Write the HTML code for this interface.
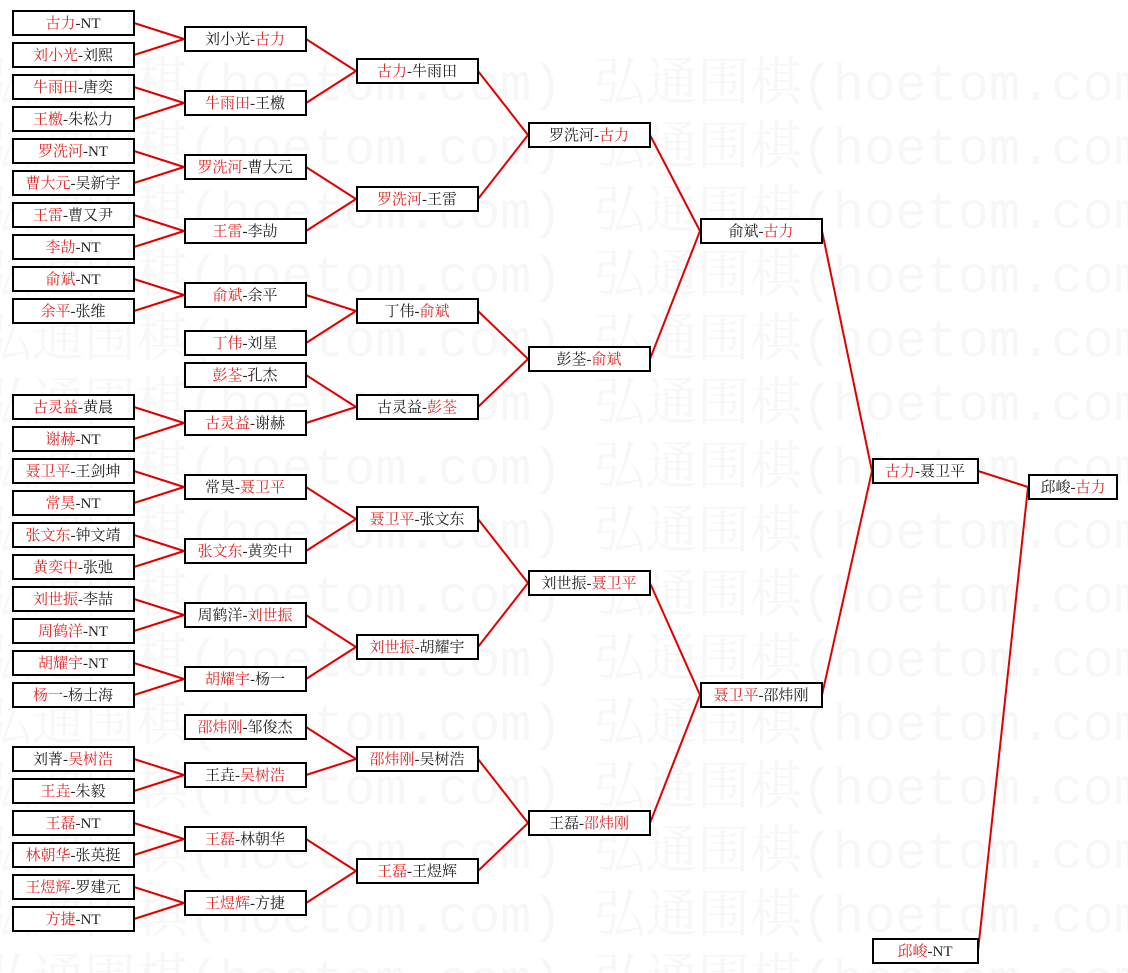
<!DOCTYPE html>
<html><head><meta charset="utf-8"><style>
html,body{margin:0;padding:0;background:#fff;}
svg{display:block;}
text{font-family:"Liberation Serif","Noto Serif CJK SC","Noto Sans CJK SC",serif;font-size:15px;fill:#222;}
.w{font-family:"Liberation Mono","Noto Serif CJK SC",monospace;font-size:52px;fill:#f7f7f7;}
.r{fill:#e02828;}
rect{fill:#fff;stroke:#000;stroke-width:2;}
line{stroke:#e00000;stroke-width:2;}
</style></head><body>
<svg width="1128" height="973" xmlns="http://www.w3.org/2000/svg">
<g>
<text class="w" x="-20" y="100">弘通围棋(hoetom.com) 弘通围棋(hoetom.com)</text>
<text class="w" x="-20" y="164">弘通围棋(hoetom.com) 弘通围棋(hoetom.com)</text>
<text class="w" x="-20" y="228">弘通围棋(hoetom.com) 弘通围棋(hoetom.com)</text>
<text class="w" x="-20" y="292">弘通围棋(hoetom.com) 弘通围棋(hoetom.com)</text>
<text class="w" x="-20" y="356">弘通围棋(hoetom.com) 弘通围棋(hoetom.com)</text>
<text class="w" x="-20" y="420">弘通围棋(hoetom.com) 弘通围棋(hoetom.com)</text>
<text class="w" x="-20" y="484">弘通围棋(hoetom.com) 弘通围棋(hoetom.com)</text>
<text class="w" x="-20" y="548">弘通围棋(hoetom.com) 弘通围棋(hoetom.com)</text>
<text class="w" x="-20" y="612">弘通围棋(hoetom.com) 弘通围棋(hoetom.com)</text>
<text class="w" x="-20" y="676">弘通围棋(hoetom.com) 弘通围棋(hoetom.com)</text>
<text class="w" x="-20" y="740">弘通围棋(hoetom.com) 弘通围棋(hoetom.com)</text>
<text class="w" x="-20" y="804">弘通围棋(hoetom.com) 弘通围棋(hoetom.com)</text>
<text class="w" x="-20" y="868">弘通围棋(hoetom.com) 弘通围棋(hoetom.com)</text>
<text class="w" x="-20" y="932">弘通围棋(hoetom.com) 弘通围棋(hoetom.com)</text>
<text class="w" x="-20" y="996">弘通围棋(hoetom.com) 弘通围棋(hoetom.com)</text>
</g>
<g>
<line x1="134" y1="23" x2="184" y2="39"/><line x1="134" y1="55" x2="184" y2="39"/>
<line x1="134" y1="87" x2="184" y2="103"/><line x1="134" y1="119" x2="184" y2="103"/>
<line x1="134" y1="151" x2="184" y2="167"/><line x1="134" y1="183" x2="184" y2="167"/>
<line x1="134" y1="215" x2="184" y2="231"/><line x1="134" y1="247" x2="184" y2="231"/>
<line x1="134" y1="279" x2="184" y2="295"/><line x1="134" y1="311" x2="184" y2="295"/>
<line x1="134" y1="407" x2="184" y2="423"/><line x1="134" y1="439" x2="184" y2="423"/>
<line x1="134" y1="471" x2="184" y2="487"/><line x1="134" y1="503" x2="184" y2="487"/>
<line x1="134" y1="535" x2="184" y2="551"/><line x1="134" y1="567" x2="184" y2="551"/>
<line x1="134" y1="599" x2="184" y2="615"/><line x1="134" y1="631" x2="184" y2="615"/>
<line x1="134" y1="663" x2="184" y2="679"/><line x1="134" y1="695" x2="184" y2="679"/>
<line x1="134" y1="759" x2="184" y2="775"/><line x1="134" y1="791" x2="184" y2="775"/>
<line x1="134" y1="823" x2="184" y2="839"/><line x1="134" y1="855" x2="184" y2="839"/>
<line x1="134" y1="887" x2="184" y2="903"/><line x1="134" y1="919" x2="184" y2="903"/>
<line x1="306" y1="39" x2="356" y2="71"/><line x1="306" y1="103" x2="356" y2="71"/>
<line x1="306" y1="167" x2="356" y2="199"/><line x1="306" y1="231" x2="356" y2="199"/>
<line x1="306" y1="295" x2="356" y2="311"/><line x1="306" y1="343" x2="356" y2="311"/>
<line x1="306" y1="375" x2="356" y2="407"/><line x1="306" y1="423" x2="356" y2="407"/>
<line x1="306" y1="487" x2="356" y2="519"/><line x1="306" y1="551" x2="356" y2="519"/>
<line x1="306" y1="615" x2="356" y2="647"/><line x1="306" y1="679" x2="356" y2="647"/>
<line x1="306" y1="727" x2="356" y2="759"/><line x1="306" y1="775" x2="356" y2="759"/>
<line x1="306" y1="839" x2="356" y2="871"/><line x1="306" y1="903" x2="356" y2="871"/>
<line x1="478" y1="71" x2="528" y2="135"/><line x1="478" y1="199" x2="528" y2="135"/>
<line x1="478" y1="311" x2="528" y2="359"/><line x1="478" y1="407" x2="528" y2="359"/>
<line x1="478" y1="519" x2="528" y2="583"/><line x1="478" y1="647" x2="528" y2="583"/>
<line x1="478" y1="759" x2="528" y2="823"/><line x1="478" y1="871" x2="528" y2="823"/>
<line x1="650" y1="135" x2="700" y2="231"/><line x1="650" y1="359" x2="700" y2="231"/>
<line x1="650" y1="583" x2="700" y2="695"/><line x1="650" y1="823" x2="700" y2="695"/>
<line x1="822" y1="231" x2="872" y2="471"/><line x1="822" y1="695" x2="872" y2="471"/>
<line x1="978" y1="471" x2="1028" y2="487"/><line x1="978" y1="951" x2="1028" y2="487"/>
</g>
<g>
<rect x="13" y="11" width="121" height="24"/><text x="73" y="28" text-anchor="middle"><tspan class="r">古力</tspan>-NT</text>
<rect x="13" y="43" width="121" height="24"/><text x="73" y="60" text-anchor="middle"><tspan class="r">刘小光</tspan>-刘熙</text>
<rect x="13" y="75" width="121" height="24"/><text x="73" y="92" text-anchor="middle"><tspan class="r">牛雨田</tspan>-唐奕</text>
<rect x="13" y="107" width="121" height="24"/><text x="73" y="124" text-anchor="middle"><tspan class="r">王檄</tspan>-朱松力</text>
<rect x="13" y="139" width="121" height="24"/><text x="73" y="156" text-anchor="middle"><tspan class="r">罗洗河</tspan>-NT</text>
<rect x="13" y="171" width="121" height="24"/><text x="73" y="188" text-anchor="middle"><tspan class="r">曹大元</tspan>-吴新宇</text>
<rect x="13" y="203" width="121" height="24"/><text x="73" y="220" text-anchor="middle"><tspan class="r">王雷</tspan>-曹又尹</text>
<rect x="13" y="235" width="121" height="24"/><text x="73" y="252" text-anchor="middle"><tspan class="r">李劼</tspan>-NT</text>
<rect x="13" y="267" width="121" height="24"/><text x="73" y="284" text-anchor="middle"><tspan class="r">俞斌</tspan>-NT</text>
<rect x="13" y="299" width="121" height="24"/><text x="73" y="316" text-anchor="middle"><tspan class="r">余平</tspan>-张维</text>
<rect x="13" y="395" width="121" height="24"/><text x="73" y="412" text-anchor="middle"><tspan class="r">古灵益</tspan>-黄晨</text>
<rect x="13" y="427" width="121" height="24"/><text x="73" y="444" text-anchor="middle"><tspan class="r">谢赫</tspan>-NT</text>
<rect x="13" y="459" width="121" height="24"/><text x="73" y="476" text-anchor="middle"><tspan class="r">聂卫平</tspan>-王剑坤</text>
<rect x="13" y="491" width="121" height="24"/><text x="73" y="508" text-anchor="middle"><tspan class="r">常昊</tspan>-NT</text>
<rect x="13" y="523" width="121" height="24"/><text x="73" y="540" text-anchor="middle"><tspan class="r">张文东</tspan>-钟文靖</text>
<rect x="13" y="555" width="121" height="24"/><text x="73" y="572" text-anchor="middle"><tspan class="r">黄奕中</tspan>-张弛</text>
<rect x="13" y="587" width="121" height="24"/><text x="73" y="604" text-anchor="middle"><tspan class="r">刘世振</tspan>-李喆</text>
<rect x="13" y="619" width="121" height="24"/><text x="73" y="636" text-anchor="middle"><tspan class="r">周鹤洋</tspan>-NT</text>
<rect x="13" y="651" width="121" height="24"/><text x="73" y="668" text-anchor="middle"><tspan class="r">胡耀宇</tspan>-NT</text>
<rect x="13" y="683" width="121" height="24"/><text x="73" y="700" text-anchor="middle"><tspan class="r">杨一</tspan>-杨士海</text>
<rect x="13" y="747" width="121" height="24"/><text x="73" y="764" text-anchor="middle">刘菁-<tspan class="r">吴树浩</tspan></text>
<rect x="13" y="779" width="121" height="24"/><text x="73" y="796" text-anchor="middle"><tspan class="r">王垚</tspan>-朱毅</text>
<rect x="13" y="811" width="121" height="24"/><text x="73" y="828" text-anchor="middle"><tspan class="r">王磊</tspan>-NT</text>
<rect x="13" y="843" width="121" height="24"/><text x="73" y="860" text-anchor="middle"><tspan class="r">林朝华</tspan>-张英挺</text>
<rect x="13" y="875" width="121" height="24"/><text x="73" y="892" text-anchor="middle"><tspan class="r">王煜辉</tspan>-罗建元</text>
<rect x="13" y="907" width="121" height="24"/><text x="73" y="924" text-anchor="middle"><tspan class="r">方捷</tspan>-NT</text>
<rect x="185" y="27" width="121" height="24"/><text x="245" y="44" text-anchor="middle">刘小光-<tspan class="r">古力</tspan></text>
<rect x="185" y="91" width="121" height="24"/><text x="245" y="108" text-anchor="middle"><tspan class="r">牛雨田</tspan>-王檄</text>
<rect x="185" y="155" width="121" height="24"/><text x="245" y="172" text-anchor="middle"><tspan class="r">罗洗河</tspan>-曹大元</text>
<rect x="185" y="219" width="121" height="24"/><text x="245" y="236" text-anchor="middle"><tspan class="r">王雷</tspan>-李劼</text>
<rect x="185" y="283" width="121" height="24"/><text x="245" y="300" text-anchor="middle"><tspan class="r">俞斌</tspan>-余平</text>
<rect x="185" y="331" width="121" height="24"/><text x="245" y="348" text-anchor="middle"><tspan class="r">丁伟</tspan>-刘星</text>
<rect x="185" y="363" width="121" height="24"/><text x="245" y="380" text-anchor="middle"><tspan class="r">彭荃</tspan>-孔杰</text>
<rect x="185" y="411" width="121" height="24"/><text x="245" y="428" text-anchor="middle"><tspan class="r">古灵益</tspan>-谢赫</text>
<rect x="185" y="475" width="121" height="24"/><text x="245" y="492" text-anchor="middle">常昊-<tspan class="r">聂卫平</tspan></text>
<rect x="185" y="539" width="121" height="24"/><text x="245" y="556" text-anchor="middle"><tspan class="r">张文东</tspan>-黄奕中</text>
<rect x="185" y="603" width="121" height="24"/><text x="245" y="620" text-anchor="middle">周鹤洋-<tspan class="r">刘世振</tspan></text>
<rect x="185" y="667" width="121" height="24"/><text x="245" y="684" text-anchor="middle"><tspan class="r">胡耀宇</tspan>-杨一</text>
<rect x="185" y="715" width="121" height="24"/><text x="245" y="732" text-anchor="middle"><tspan class="r">邵炜刚</tspan>-邹俊杰</text>
<rect x="185" y="763" width="121" height="24"/><text x="245" y="780" text-anchor="middle">王垚-<tspan class="r">吴树浩</tspan></text>
<rect x="185" y="827" width="121" height="24"/><text x="245" y="844" text-anchor="middle"><tspan class="r">王磊</tspan>-林朝华</text>
<rect x="185" y="891" width="121" height="24"/><text x="245" y="908" text-anchor="middle"><tspan class="r">王煜辉</tspan>-方捷</text>
<rect x="357" y="59" width="121" height="24"/><text x="417" y="76" text-anchor="middle"><tspan class="r">古力</tspan>-牛雨田</text>
<rect x="357" y="187" width="121" height="24"/><text x="417" y="204" text-anchor="middle"><tspan class="r">罗洗河</tspan>-王雷</text>
<rect x="357" y="299" width="121" height="24"/><text x="417" y="316" text-anchor="middle">丁伟-<tspan class="r">俞斌</tspan></text>
<rect x="357" y="395" width="121" height="24"/><text x="417" y="412" text-anchor="middle">古灵益-<tspan class="r">彭荃</tspan></text>
<rect x="357" y="507" width="121" height="24"/><text x="417" y="524" text-anchor="middle"><tspan class="r">聂卫平</tspan>-张文东</text>
<rect x="357" y="635" width="121" height="24"/><text x="417" y="652" text-anchor="middle"><tspan class="r">刘世振</tspan>-胡耀宇</text>
<rect x="357" y="747" width="121" height="24"/><text x="417" y="764" text-anchor="middle"><tspan class="r">邵炜刚</tspan>-吴树浩</text>
<rect x="357" y="859" width="121" height="24"/><text x="417" y="876" text-anchor="middle"><tspan class="r">王磊</tspan>-王煜辉</text>
<rect x="529" y="123" width="121" height="24"/><text x="589" y="140" text-anchor="middle">罗洗河-<tspan class="r">古力</tspan></text>
<rect x="529" y="347" width="121" height="24"/><text x="589" y="364" text-anchor="middle">彭荃-<tspan class="r">俞斌</tspan></text>
<rect x="529" y="571" width="121" height="24"/><text x="589" y="588" text-anchor="middle">刘世振-<tspan class="r">聂卫平</tspan></text>
<rect x="529" y="811" width="121" height="24"/><text x="589" y="828" text-anchor="middle">王磊-<tspan class="r">邵炜刚</tspan></text>
<rect x="701" y="219" width="121" height="24"/><text x="761" y="236" text-anchor="middle">俞斌-<tspan class="r">古力</tspan></text>
<rect x="701" y="683" width="121" height="24"/><text x="761" y="700" text-anchor="middle"><tspan class="r">聂卫平</tspan>-邵炜刚</text>
<rect x="873" y="459" width="105" height="24"/><text x="925" y="476" text-anchor="middle"><tspan class="r">古力</tspan>-聂卫平</text>
<rect x="873" y="939" width="105" height="24"/><text x="925" y="956" text-anchor="middle"><tspan class="r">邱峻</tspan>-NT</text>
<rect x="1029" y="475" width="88" height="24"/><text x="1073" y="492" text-anchor="middle">邱峻-<tspan class="r">古力</tspan></text>
</g>
</svg>
</body></html>
